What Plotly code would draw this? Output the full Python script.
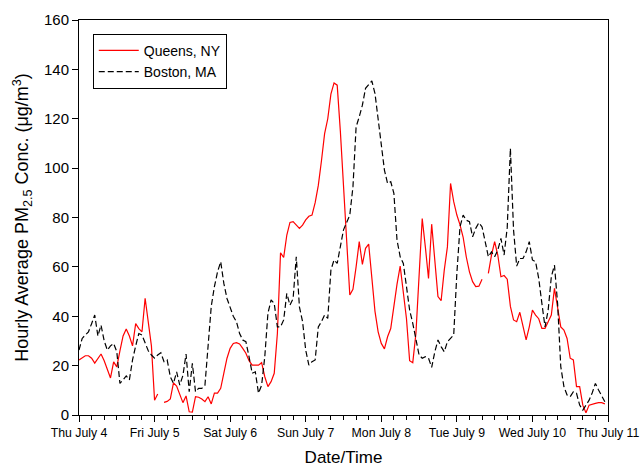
import plotly.graph_objects as go

# hours since Thu July 4 00:00
hours = list(range(168))

queens = [22.3, 23, 24, 24, 23, 21, 23, 24.7, 22, 18,
          15, 21.5, 19.5, 26, 32, 34.8, 32, 28, 37, 35,
          33.7, 47.3, 38, 28, 6, 8.5, None, 5.1, 5.5, 6.5,
          13, 11.7, 8, 5, 7.7, 1.3, 1.2, 7.4, 7.2, 6.5,
          5.4, 7.4, 4.5, 8.9, 8.9, 10.8, 17, 23, 27, 29,
          29.3, 28.8, 27, 25, 22, 20.2, 20.2, 20.2, 21.2, 15.5,
          11.5, 13.5, 16.9, 33, 65.7, 63.8, 72.9, 78, 78.3, 77,
          75.6, 76.9, 79, 80.5, 81, 86, 93, 103, 114, 120,
          130, 134.5, 133.6, 115, 95, 70.8, 48.6, 50.9, 60, 70.2,
          61, 67.5, 69.2, 55, 42, 33.7, 29, 26.8, 31.7, 35,
          45, 53, 60.3, 50, 39, 22, 21.2, 33, 55, 79.6,
          68, 55.3, 77.3, 64.1, 48, 46.3, 58.7, 68.1, 93.8, 86.4,
          81, 77, 72, 64, 58, 54, 52, 52.2, 55, None,
          57.4, 64.8, 70.2, 64.8, 56, 56.5, 55, 44, 38.5, 37.8,
          41.6, 36, 30.4, 35.7, 42.5, 40.5, 39, 35.1, 35.1, 37.8,
          40.5, 51.3, 42.5, 35.7, 34.4, 31, 23, 22.3, 11.5, 11.5,
          4, 0.9, 4, 4.5, 4.7, 5, 5, 4.5]

boston = [26.3, 31, 32.4, 33.7, 37, 40.5, 32, 36.4, 30, 26.3,
          28, 29, 25.6, 12.8, 14.2, 15.8, 14.2, 22.3, 28, 33,
          32.4, 29, 26, 24.3, 23, 24.3, 25.2, 21.6, 22.3, 15.5,
          12.8, 17.5, 12.1, 16, 24.7, 9.4, 20.9, 9.4, 10.8, 10.8,
          12.1, 28, 44, 52, 58, 62.1, 53.3, 47.2, 43.8, 40,
          37.8, 33, 30.4, 29.7, 23.6, 16.9, 17.5, 8.8, 12.1, 23.6,
          41.2, 46.6, 45.2, 35.7, 35.7, 38.5, 49.3, 44.5, 47.2, 64.1,
          43.8, 37.8, 26.3, 20.2, 21.6, 22.3, 35.7, 37.8, 40.5, 39.1,
          58.7, 62.8, 61.4, 68.1, 75, 78, 81, 92.4, 116.7, 120.8,
          125.5, 132.3, 134, 135.3, 130.2, 119.4, 110, 99.2, 93.8, 94.5,
          89.8, 70.8, 64.1, 61.4, 52, 42.5, 37.1, 30.4, 24.3, 23,
          23.6, 23, 19.3, 25.6, 30.4, 27.7, 25.6, 29.7, 31, 32.4,
          57.4, 76.2, 81, 78.9, 78.3, 72.2, 75.6, 77.9, 76.2, 70.8,
          64.1, 66.1, 64.1, 66.8, 71.5, 64.8, 76, 108, 75, 60.3,
          63.4, 63.4, 66.1, 70.2, 62.8, 62.1, 55.3, 45.2, 35.7, 42.5,
          56, 60.7, 45, 19.6, 11.5, 8.1, 7.4, 9.4, 8.8, 4,
          2, 4, 6, 9, 12.8, 10.1, 7.4, 5.4]

day_ticks = [0, 24, 48, 72, 96, 120, 144, 168]
day_labels = ["Thu July 4", "Fri July 5", "Sat July 6", "Sun July 7",
              "Mon July 8", "Tue July 9", "Wed July 10", "Thu July 11"]
y_ticks = [0, 20, 40, 60, 80, 100, 120, 140, 160]

FONT = "Arial, Liberation Sans, sans-serif"

fig = go.Figure()
fig.add_trace(go.Scatter(x=hours, y=queens, mode="lines", name="Queens, NY",
                         line=dict(color="#ff0000", width=1.2),
                         connectgaps=False))
fig.add_trace(go.Scatter(x=hours, y=boston, mode="lines", name="Boston, MA",
                         line=dict(color="#000000", width=1.2, dash="6px,3px")))

fig.update_layout(
    width=641, height=467,
    margin=dict(l=79, r=33, t=20, b=52),
    paper_bgcolor="white", plot_bgcolor="white",
    font=dict(family=FONT, color="black"),
    showlegend=True,
    legend=dict(x=0.026, y=0.965, xanchor="left", yanchor="top",
                bordercolor="black", borderwidth=1, bgcolor="white",
                font=dict(size=14, family=FONT), tracegroupgap=0,
                itemwidth=40),
)
fig.update_xaxes(
    range=[0, 168], tickmode="array", tickvals=day_ticks, ticktext=day_labels,
    ticks="outside", ticklen=6, tickwidth=1, tickcolor="black",
    showline=True, linecolor="black", linewidth=1, mirror=True,
    showgrid=False, zeroline=False, automargin=False,
    tickfont=dict(size=12.3, family=FONT),
    minor=dict(dtick=4, tick0=0, ticks="outside", ticklen=4, tickcolor="black", showgrid=False),
    title=dict(text="Date/Time", font=dict(size=17, family=FONT), standoff=14),
)
fig.update_yaxes(
    range=[0, 160], tickmode="array", tickvals=y_ticks,
    ticks="outside", ticklen=6, tickwidth=1, tickcolor="black",
    showline=True, linecolor="black", linewidth=1, mirror=True,
    showgrid=False, zeroline=False, automargin=False,
    tickfont=dict(size=15, family=FONT),
    title=dict(text="Hourly Average PM<sub>2.5</sub> Conc. (\u03bcg/m<sup>3</sup>)",
               font=dict(size=18, family=FONT), standoff=10),
)

# remove the default page margin so the 641x467 figure fills the window exactly
fig.write_html("out.html",
               config={"displayModeBar": False},
               post_script="document.body.style.margin='0';document.body.style.overflow='hidden';")
